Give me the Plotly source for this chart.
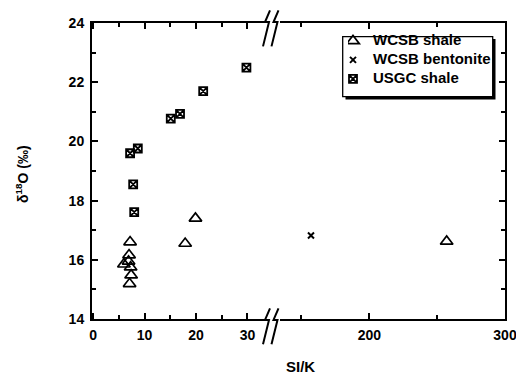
import plotly.graph_objects as go

# ---- data ----
wcsb_shale_si_k = [7.2, 7.0, 6.9, 6.0, 7.3, 7.4, 7.1, 17.9, 19.9, 257]
wcsb_shale_d18o = [16.6, 16.16, 15.95, 15.85, 15.75, 15.48, 15.19, 16.55, 17.4, 16.62]
bentonite_si_k = [157]
bentonite_d18o = [16.82]
usgc_si_k = [8.0, 7.8, 7.2, 8.7, 15.1, 16.9, 21.4, 29.8]
usgc_d18o = [17.61, 18.55, 19.6, 19.76, 20.77, 20.93, 21.7, 22.49]

series_names = ["WCSB shale", "WCSB bentonite", "USGC shale"]
x_left_ticks = [0, 10, 20, 30]
x_right_ticks = [200, 300]
y_ticks = [14, 16, 18, 20, 22, 24]

BREAK = 100  # values above this go on the right-hand segment

# ---- geometry helpers (window pixels; page body has an 8px margin) ----
OFF = 8
W, H = 524 - OFF, 380 - OFF
L, T = 92 - OFF, 15 - OFF
R = W - (505 - OFF)
B = H - (319 - OFF)
PW, PH = W - L - R, H - T - B


def pxx(x):
    return (x - OFF - L) / PW


def pxy(y):
    return (H - B - (y - OFF)) / PH


FONT = dict(family="Liberation Sans, Arial, sans-serif", color="black", weight="bold")


def split(xs, ys):
    left = [(x, y) for x, y in zip(xs, ys) if x < BREAK]
    right = [(x, y) for x, y in zip(xs, ys) if x >= BREAK]
    return ([p[0] for p in left], [p[1] for p in left]), ([p[0] for p in right], [p[1] for p in right])


def lname(s):
    return f"<span style='font-size:15px'>{s}</span>"


fig = go.Figure()

tri = dict(symbol="triangle-up-open", size=11, color="black", line=dict(width=1.7, color="black"))
sq = dict(symbol="square-x-open", size=8, color="black", line=dict(width=1.8, color="black"))
xm = dict(symbol="x-thin-open", size=6, color="black", line=dict(width=2, color="black"))

(sl, sr) = split(wcsb_shale_si_k, wcsb_shale_d18o)
fig.add_trace(go.Scatter(x=sl[0], y=sl[1], mode="markers", marker=tri, name=lname(series_names[0]),
                         legendgroup="s", xaxis="x", yaxis="y"))
fig.add_trace(go.Scatter(x=bentonite_si_k, y=bentonite_d18o, mode="markers", marker=xm,
                         name=lname(series_names[1]), xaxis="x2", yaxis="y2"))
(ul, ur) = split(usgc_si_k, usgc_d18o)
fig.add_trace(go.Scatter(x=ul[0], y=ul[1], mode="markers", marker=sq, name=lname(series_names[2]),
                         xaxis="x", yaxis="y"))
fig.add_trace(go.Scatter(x=sr[0], y=sr[1], mode="markers", marker=tri, name=lname(series_names[0]),
                         legendgroup="s", showlegend=False, xaxis="x2", yaxis="y2"))

left_end = pxx(266.5)
right_start = pxx(279.5)

common = dict(showline=True, linecolor="black", linewidth=2, ticks="inside", ticklen=6,
              tickwidth=1.5, tickcolor="black", showgrid=False, zeroline=False,
              tickfont=dict(size=14, **FONT), ticklabelstandoff=2)

LEG_L, LEG_T = 348, 18.5

fig.update_layout(
    width=W, height=H, margin=dict(l=L, r=R, t=T, b=B),
    paper_bgcolor="white", plot_bgcolor="white",
    xaxis=dict(domain=[0, left_end], range=[-0.2, 33.7], tickvals=x_left_ticks, anchor="y",
               mirror="allticks", minor=dict(ticks="inside", ticklen=4, tickwidth=1.5, dtick=5,
                                             tick0=0, tickcolor="black", showgrid=False),
               **common),
    xaxis2=dict(domain=[right_start, 1], range=[133.8, 300], tickvals=x_right_ticks, anchor="y2",
                mirror="allticks", minor=dict(ticks="inside", ticklen=4, tickwidth=1.5, dtick=50,
                                              tick0=0, tickcolor="black", showgrid=False),
                **common),
    yaxis=dict(domain=[0, 1], range=[14, 24], tickvals=y_ticks, anchor="x",
               minor=dict(ticks="inside", ticklen=4, tickwidth=1.5, dtick=1, tick0=0,
                          tickcolor="black", showgrid=False),
               **{**common, "ticklabelstandoff": 3}),
    yaxis2=dict(domain=[0, 1], matches="y", anchor="x2", side="right", showticklabels=False,
                tickvals=y_ticks,
                minor=dict(ticks="inside", ticklen=4, tickwidth=1.5, dtick=1, tick0=0,
                           tickcolor="black", showgrid=False),
                **{k: v for k, v in common.items() if k not in ("tickfont", "ticklabelstandoff")}),
    showlegend=True,
    legend=dict(x=pxx(LEG_L), y=pxy(LEG_T), xanchor="left", yanchor="top",
                bgcolor="rgba(0,0,0,0)", borderwidth=0, font=dict(size=11.5, **FONT),
                indentation=-15, tracegroupgap=0, itemwidth=30),
)

# axis titles
fig.add_annotation(text="SI/K", x=pxx(300), y=pxy(368), xref="paper", yref="paper",
                   showarrow=False, xanchor="center", yanchor="middle", font=dict(size=15, **FONT))
fig.add_annotation(text="δ<sup>18</sup>O (‰)", x=pxx(22), y=pxy(170), xref="paper", yref="paper",
                   showarrow=False, textangle=-90, xanchor="center", yanchor="middle",
                   font=dict(size=14, **FONT))


# axis-break marks
def bolt(x0, y0):
    pts = [(x0, y0), (x0 - 5, y0 + 12), (x0 - 1, y0 + 12), (x0 - 7, y0 + 37)]
    d = "M " + " L ".join(f"{pxx(a):.5f},{pxy(b):.5f}" for a, b in pts)
    return dict(type="path", path=d, xref="paper", yref="paper",
                line=dict(color="black", width=2))


shapes = []
for xb in (270, 278.5):
    shapes.append(bolt(xb, 308))
    shapes.append(bolt(xb, 2))
# legend frame with drop shadow
shapes.append(dict(type="rect", xref="paper", yref="paper", x0=pxx(345.5), x1=pxx(495.5),
                   y0=pxy(93.5), y1=pxy(31.5), fillcolor="black", line=dict(width=0),
                   layer="above"))
shapes.append(dict(type="rect", xref="paper", yref="paper", x0=pxx(342.7), x1=pxx(492.7),
                   y0=pxy(90.7), y1=pxy(29), fillcolor="white",
                   line=dict(color="black", width=1.3), layer="above"))
fig.update_layout(shapes=shapes)

fig.write_html("out.html")
